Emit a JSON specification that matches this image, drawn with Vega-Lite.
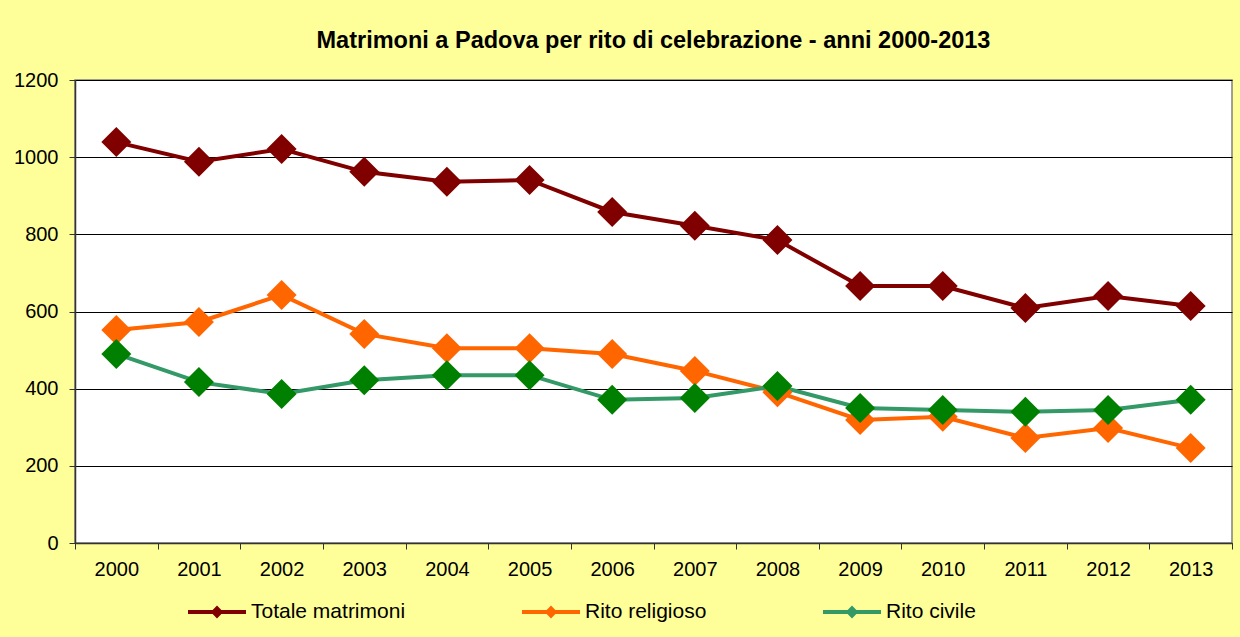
{
  "$schema": "https://vega.github.io/schema/vega-lite/v6.json",
  "width": 1157,
  "height": 463,
  "autosize": {"type": "none"},
  "padding": {"left": 75, "top": 80, "right": 8, "bottom": 94},
  "background": "#FFFF99",
  "config": {
    "font": "Liberation Sans",
    "view": {"stroke": "#808080", "strokeWidth": 1.5, "fill": "white"}
  },
  "title": {
    "text": "Matrimoni a Padova per rito di celebrazione - anni 2000-2013",
    "font": "Liberation Sans",
    "fontSize": 23.5,
    "fontWeight": "bold",
    "color": "black",
    "anchor": "middle",
    "frame": "group",
    "offset": 18
  },
  "data": {
    "values": [
      {"year": 2000, "serie": "Totale matrimoni", "value": 1039},
      {"year": 2001, "serie": "Totale matrimoni", "value": 988},
      {"year": 2002, "serie": "Totale matrimoni", "value": 1021},
      {"year": 2003, "serie": "Totale matrimoni", "value": 962},
      {"year": 2004, "serie": "Totale matrimoni", "value": 936},
      {"year": 2005, "serie": "Totale matrimoni", "value": 941},
      {"year": 2006, "serie": "Totale matrimoni", "value": 858},
      {"year": 2007, "serie": "Totale matrimoni", "value": 822},
      {"year": 2008, "serie": "Totale matrimoni", "value": 785},
      {"year": 2009, "serie": "Totale matrimoni", "value": 666},
      {"year": 2010, "serie": "Totale matrimoni", "value": 666},
      {"year": 2011, "serie": "Totale matrimoni", "value": 609},
      {"year": 2012, "serie": "Totale matrimoni", "value": 640},
      {"year": 2013, "serie": "Totale matrimoni", "value": 614},
      {"year": 2000, "serie": "Rito religioso", "value": 552},
      {"year": 2001, "serie": "Rito religioso", "value": 573},
      {"year": 2002, "serie": "Rito religioso", "value": 643},
      {"year": 2003, "serie": "Rito religioso", "value": 542},
      {"year": 2004, "serie": "Rito religioso", "value": 505},
      {"year": 2005, "serie": "Rito religioso", "value": 505},
      {"year": 2006, "serie": "Rito religioso", "value": 490},
      {"year": 2007, "serie": "Rito religioso", "value": 446},
      {"year": 2008, "serie": "Rito religioso", "value": 391},
      {"year": 2009, "serie": "Rito religioso", "value": 319},
      {"year": 2010, "serie": "Rito religioso", "value": 327},
      {"year": 2011, "serie": "Rito religioso", "value": 272},
      {"year": 2012, "serie": "Rito religioso", "value": 298},
      {"year": 2013, "serie": "Rito religioso", "value": 246},
      {"year": 2000, "serie": "Rito civile", "value": 490},
      {"year": 2001, "serie": "Rito civile", "value": 417},
      {"year": 2002, "serie": "Rito civile", "value": 386},
      {"year": 2003, "serie": "Rito civile", "value": 422},
      {"year": 2004, "serie": "Rito civile", "value": 435},
      {"year": 2005, "serie": "Rito civile", "value": 435},
      {"year": 2006, "serie": "Rito civile", "value": 371},
      {"year": 2007, "serie": "Rito civile", "value": 376},
      {"year": 2008, "serie": "Rito civile", "value": 407},
      {"year": 2009, "serie": "Rito civile", "value": 350},
      {"year": 2010, "serie": "Rito civile", "value": 345},
      {"year": 2011, "serie": "Rito civile", "value": 340},
      {"year": 2012, "serie": "Rito civile", "value": 345},
      {"year": 2013, "serie": "Rito civile", "value": 371}
    ]
  },
  "encoding": {
    "x": {
      "field": "year",
      "type": "quantitative",
      "scale": {"domain": [1999.5, 2013.5], "nice": false, "zero": false},
      "axis": {
        "title": null,
        "grid": false,
        "values": [1999.5, 2000, 2000.5, 2001, 2001.5, 2002, 2002.5, 2003, 2003.5, 2004, 2004.5, 2005, 2005.5, 2006, 2006.5, 2007, 2007.5, 2008, 2008.5, 2009, 2009.5, 2010, 2010.5, 2011, 2011.5, 2012, 2012.5, 2013, 2013.5],
        "labelExpr": "datum.value % 1 == 0 ? format(datum.value, 'd') : ''",
        "tickOpacity": {"condition": {"test": "datum.value % 1 == 0", "value": 0}, "value": 1},
        "labelOverlap": false,
        "labelFlush": false,
        "labelFontSize": 20,
        "labelColor": "black",
        "labelPadding": 10,
        "tickSize": 6,
        "tickColor": "#333333",
        "domainColor": "#333333",
        "domainWidth": 1.5
      }
    },
    "y": {
      "field": "value",
      "type": "quantitative",
      "scale": {"domain": [0, 1200], "nice": false},
      "axis": {
        "title": null,
        "format": "d",
        "values": [0, 200, 400, 600, 800, 1000, 1200],
        "grid": true,
        "gridColor": "black",
        "gridWidth": 1,
        "gridOpacity": 1,
        "labelFontSize": 20,
        "labelColor": "black",
        "labelPadding": 11,
        "tickSize": 6,
        "tickColor": "#333333",
        "domainColor": "#333333",
        "domainWidth": 1.5
      }
    },
    "color": {
      "field": "serie",
      "type": "nominal",
      "sort": ["Totale matrimoni", "Rito religioso", "Rito civile"],
      "scale": {"domain": ["Totale matrimoni", "Rito religioso", "Rito civile"], "range": ["#800000", "#FF6600", "#339966"]},
      "legend": {
        "title": null,
        "orient": "none",
        "direction": "horizontal",
        "legendX": 113,
        "legendY": 503,
        "symbolType": "M-1,-0.07L-0.15,-0.07L0,-0.22L0.15,-0.07L1,-0.07L1,0.07L0.15,0.07L0,0.22L-0.15,0.07L-1,0.07Z",
        "symbolSize": 3364,
        "symbolStrokeWidth": 0,
        "symbolOpacity": 1,
        "labelFontSize": 21,
        "labelColor": "black",
        "labelOffset": 5,
        "columnPadding": 116,
        "labelLimit": 400,
        "encode": {
          "symbols": {
            "update": {
              "fill": {"scale": "color", "field": "value"},
              "fillOpacity": {"value": 1}
            }
          }
        }
      }
    }
  },
  "layer": [
    {
      "mark": {"type": "line", "strokeWidth": 4}
    },
    {
      "mark": {"type": "point", "shape": "diamond", "filled": true, "size": 900, "opacity": 1},
      "encoding": {
        "color": {
          "condition": {"test": "datum.serie === 'Rito civile'", "value": "#008000"},
          "field": "serie",
          "type": "nominal",
          "sort": ["Totale matrimoni", "Rito religioso", "Rito civile"]
        }
      }
    }
  ]
}
